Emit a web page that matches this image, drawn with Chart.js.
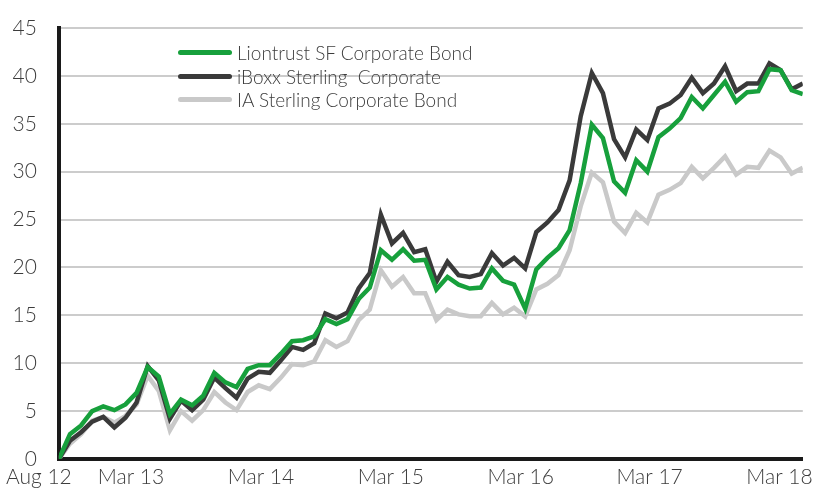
<!DOCTYPE html>
<html>
<head>
<meta charset="utf-8">
<script src="https://cdn.jsdelivr.net/npm/chart.js@4"></script>
<style>
  body { margin: 0; background: #fff; }
  #wrap { position: relative; width: 819px; height: 489px; }
  #wrap canvas { display: block; }
  #legend {
    position: absolute; left: 178px; top: 41px;
    font-family: Lato, 'Open Sans', sans-serif; font-weight: 300;
    font-size: 19px; color: #3c3c3c;
  }
  .row { height: 23.5px; display: flex; align-items: center; white-space: nowrap; }
  .swatch { width: 54px; height: 5px; border-radius: 3px; margin-right: 5px; }
</style>
</head>
<body>
<div id="wrap">
  <canvas id="chart" width="819" height="489"></canvas>
  <div id="legend"></div>
</div>
<script>
// Cumulative performance (%), monthly from Aug 2012
const liontrust = [0, 2.6, 3.5, 5.0, 5.5, 5.1, 5.7, 6.9, 9.6, 8.6,
  4.7, 6.2, 5.6, 6.6, 9.0, 8.0, 7.5, 9.4, 9.8, 9.8,
  11.0, 12.3, 12.4, 12.8, 14.6, 14.1, 14.6, 16.7, 17.9, 21.8,
  20.8, 21.9, 20.7, 20.8, 17.7, 19.0, 18.2, 17.8, 17.9, 19.9,
  18.6, 18.2, 15.7, 19.8, 21.0, 22.0, 23.9, 28.8, 34.9, 33.5,
  29.0, 27.8, 31.2, 30.0, 33.6, 34.5, 35.6, 37.8, 36.6, 38.0,
  39.4, 37.3, 38.3, 38.4, 40.7, 40.6, 38.5, 38.1];
const iboxx = [0, 1.9, 2.8, 3.9, 4.4, 3.3, 4.3, 5.9, 9.7, 8.2,
  4.2, 6.1, 5.1, 6.2, 8.5, 7.4, 6.4, 8.4, 9.1, 9.0,
  10.3, 11.7, 11.4, 12.1, 15.2, 14.7, 15.3, 17.8, 19.4, 25.5,
  22.5, 23.6, 21.6, 21.9, 18.5, 20.6, 19.2, 19.0, 19.3, 21.5,
  20.2, 21.0, 19.9, 23.7, 24.7, 26.0, 29.1, 35.8, 40.3, 38.2,
  33.4, 31.5, 34.4, 33.3, 36.6, 37.1, 38.0, 39.8, 38.2, 39.2,
  41.0, 38.4, 39.2, 39.2, 41.3, 40.6, 38.6, 39.2];
const iaSector = [0, 1.6, 2.6, 4.0, 4.4, 3.8, 4.5, 5.7, 8.7, 7.1,
  3.0, 5.0, 4.0, 5.1, 7.0, 5.9, 5.1, 7.0, 7.7, 7.3,
  8.5, 9.9, 9.8, 10.2, 12.4, 11.7, 12.3, 14.5, 15.6, 19.7,
  18.0, 19.0, 17.3, 17.3, 14.5, 15.6, 15.1, 14.9, 14.9, 16.3,
  15.1, 15.8, 14.9, 17.7, 18.3, 19.2, 21.8, 26.4, 29.9, 28.9,
  24.8, 23.6, 25.7, 24.7, 27.6, 28.1, 28.8, 30.5, 29.3, 30.4,
  31.6, 29.7, 30.5, 30.4, 32.2, 31.5, 29.8, 30.4];

const seriesNames = ['Liontrust SF Corporate Bond', 'iBoxx Sterling  Corporate', 'IA Sterling Corporate Bond'];
const xTickLabels = ['Aug 12', 'Mar 13', 'Mar 14', 'Mar 15', 'Mar 16', 'Mar 17', 'Mar 18'];
const xTickAt = [0, 6.5, 18.2, 29.9, 41.6, 53.2, 64.9];

const colours = ['#17a03c', '#3a3a3a', '#c9c9c9'];
const textColour = '#3c3c3c';
const font = { family: "Lato, 'Open Sans', sans-serif", size: 21, weight: 300 };

const toPoints = values => values.map((v, i) => ({ x: i, y: v }));

const datasets = [liontrust, iboxx, iaSector].map((values, i) => ({
  label: seriesNames[i],
  data: toPoints(values),
  borderColor: colours[i],
  borderWidth: 4.5,
  pointRadius: 0,
  pointHoverRadius: 0,
  tension: 0,
  fill: false
}));

// legend drawn as html so it can sit inside the plot like the original
const legend = document.getElementById('legend');
seriesNames.forEach((name, i) => {
  legend.innerHTML += `<div class="row"><span class="swatch" style="background:${colours[i]}"></span>${name.replace(/  /g, ' &nbsp;')}</div>`;
});

new Chart(document.getElementById('chart'), {
  type: 'line',
  data: { datasets: datasets },
  options: {
    responsive: false,
    animation: false,
    layout: { padding: { left: 0, right: 12, top: 28, bottom: 0 } },
    plugins: {
      legend: { display: false },
      tooltip: { enabled: false }
    },
    scales: {
      x: {
        type: 'linear',
        min: 0,
        max: liontrust.length - 1,
        grid: { display: false, drawTicks: false },
        border: { display: true, color: '#1a1a1a', width: 4 },
        afterBuildTicks: axis => {
          axis.ticks = xTickAt.map(v => ({ value: v }));
        },
        afterFit: axis => { axis.height = 30; },
        ticks: {
          autoSkip: false,
          maxRotation: 0,
          padding: 6,
          color: textColour,
          font: font,
          // trailing spaces nudge the first label left, as in the original
          callback: (value, index) => index === 0 ? xTickLabels[0] + '       ' : xTickLabels[index]
        }
      },
      y: {
        min: 0,
        max: 45,
        grid: { color: '#cccccc', lineWidth: 2, drawTicks: false },
        border: { display: true, color: '#1a1a1a', width: 4 },
        afterFit: axis => {
          axis.width = 58;
          // the tick padding should not push the plot area down
          axis.paddingTop = 0;
          axis.paddingBottom = 0;
        },
        ticks: {
          stepSize: 5,
          padding: 22,
          color: textColour,
          font: font
        }
      }
    }
  }
});
</script>
</body>
</html>
